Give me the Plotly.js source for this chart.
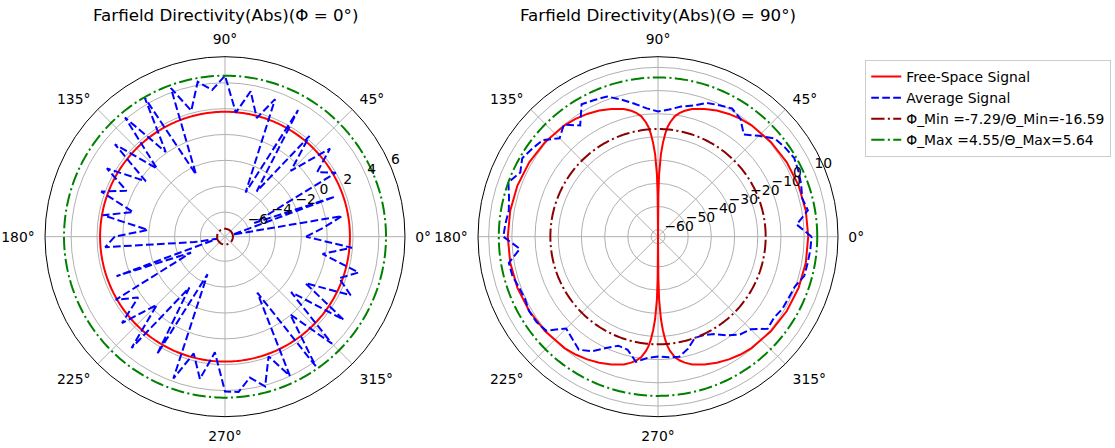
<!DOCTYPE html>
<html>
<head>
<meta charset="utf-8">
<script src="https://cdn.plot.ly/plotly-3.0.1.min.js"></script>
<style>
  html, body { margin: 0; padding: 0; background: #ffffff; }
  #chart { width: 1115px; height: 448px; }
</style>
</head>
<body>
<div id="chart"></div>
<script>
// ---------------- DATA ----------------
// Reference levels (dB)
const FREE_SPACE_LEFT = 1.76;
const PHI_MIN = -7.29;
const PHI_MAX = 4.55;
const THETA_MIN = -16.59;
const THETA_MAX = 5.64;

// Left plot (Phi = 0 deg): average signal, one value every 5 deg
const leftAngles = [0,5,10,15,20,25,30,35,40,45,50,55,60,65,70,75,80,85,
  90,95,100,105,110,115,120,125,130,135,140,145,150,155,160,165,170,175,
  180,185,190,195,200,205,210,215,220,225,230,235,240,245,250,255,260,265,
  270,275,280,285,290,295,300,305,310,315,320,325,330,335,340,345,350,355,360];
const leftAverage = [-1.63,-0.3,1.3,-7.29,1.17,-5.4,2.0,0.8,2.7,-0.7,2.27,-3.63,3.4,-4.13,3.42,1.6,3.52,1.73,
  4.55,3.49,4.26,2.18,4.33,-2.6,4.5,0.09,4.13,-0.46,3.22,-0.42,2.65,0.5,2.29,-0.55,1.69,-1.92,
  0.63,1.4,-5.5,-7.29,1.03,-5.0,1.86,0.3,2.5,-0.45,3.34,-3.1,2.6,-4.7,3.78,1.45,3.27,1.08,
  4.07,4.15,3.16,4.09,1.95,3.97,-2.9,4.33,-0.06,3.8,-1.23,3.3,-0.72,2.82,1.49,2.79,-0.24,1.95,-1.63];

// Right plot (Theta = 90 deg): average signal, one value every 5 deg
const rightAngles = leftAngles;
const rightAverage = [3.2,-3.0,2.6,1.3,2.7,3.8,4.8,3.9,2.8,-1.5,-5.5,-1.0,0.8,-0.5,-1.6,-4.5,-6.0,-8.0,
  -9.0,-7.5,-4.8,-1.8,1.3,2.0,2.9,-4.5,0.1,-3.0,1.8,3.2,4.6,2.5,5.64,3.5,2.3,3.0,
  3.7,-3.2,2.3,2.0,0.8,0.3,1.2,1.0,0.0,-7.0,-5.5,-3.5,-6.0,-10.0,-13.0,-12.5,-8.2,-10.5,
  -11.3,-10.8,-10.4,-13.0,-16.59,-16.2,-14.5,-11.0,-8.0,-6.5,-1.3,-2.0,-1.0,-0.8,-0.2,2.3,2.5,2.9,3.2];

// Right plot: free-space signal (denser near the nulls)
const rightFsAngles = [0,10,20,30,40,50,55,60,65,70,75,78,80,82,84,85,86,87,88,89,89.5,90,
  90.5,91,92,93,94,95,96,98,100,102,105,110,115,120,125,130,140,150,160,170,180,
  190,200,210,220,230,235,240,245,250,255,258,260,262,264,265,266,267,268,269,269.5,270,
  270.5,271,272,273,274,275,276,278,280,282,285,290,295,300,305,310,320,330,340,350,360];
const rightFreeSpace = [1.76,1.7,1.5,1.1,0.5,-0.3,-1.0,-1.9,-3.0,-4.4,-6.0,-7.5,-8.8,-10.5,-13.5,-15.5,-18.5,-22.5,-27.5,-36,-45,-63,
  -45,-36,-27.5,-22.5,-18.5,-15.5,-13.5,-10.5,-8.8,-7.5,-6.0,-4.4,-3.0,-1.9,-1.0,-0.3,0.5,1.1,1.5,1.7,1.76,
  1.7,1.5,1.1,0.5,-0.3,-1.0,-1.9,-3.0,-4.4,-6.0,-7.5,-8.8,-10.5,-13.5,-15.5,-18.5,-22.5,-27.5,-36,-45,-63,
  -45,-36,-27.5,-22.5,-18.5,-15.5,-13.5,-10.5,-8.8,-7.5,-6.0,-4.4,-3.0,-1.9,-1.0,-0.3,0.5,1.1,1.5,1.7,1.76];

// Tick labels
const angleTicks = [0,45,90,135,180,225,270,315];
const angleLabels = ['0°','45°','90°','135°','180°','225°','270°','315°'];
const leftRTicks = [-6,-4,-2,0,2,4,6];
const leftRLabels = ['\u22126','\u22124','\u22122','0','2','4','6'];
const rightRTicks = [-60,-50,-40,-30,-20,-10,0,10];
const rightRLabels = ['\u221260','\u221250','\u221240','\u221230','\u221220','\u221210','0','10'];

const legendNames = ['Free-Space Signal', 'Average Signal',
  '\u03A6_Min =' + PHI_MIN + '/\u0398_Min=' + THETA_MIN,
  '\u03A6_Max =' + PHI_MAX + '/\u0398_Max=' + THETA_MAX];

// ---------------- STYLE / GEOMETRY ----------------
const FONT = 'DejaVu Sans, Liberation Sans, sans-serif';
const LW = 2;
const DASH = '7.7px,3.3px';
const DASHDOT = '13.3px,3.3px,2.1px,3.3px';
const RED = '#ff0000', BLUE = '#0000ff', DARKRED = '#8b0000', GREEN = '#008000';
const LEFT_RANGE = [-7.9, 6.02];
const RIGHT_RANGE = [-63, 14.6];
const R_LABEL_ANGLE = 22.5;     // radial tick labels sit along this angle

// angular positions used to draw the constant reference circles
const circleAngles = [];
for (let a = 0; a <= 360; a += 1) circleAngles.push(a);
function constR(v) { return circleAngles.map(() => v); }

const tickFont = {family: FONT, size: 13.9, color: '#000000'};

function subplotTraces(sp, showLeg, fsTheta, fsR, avgTheta, avgR, minV, maxV, rTicks, rLabels) {
  return [
    {type:'scatterpolar', subplot:sp, theta: fsTheta, r: fsR,
     mode:'lines', line:{color:RED, width:LW}, name: legendNames[0], showlegend: showLeg},
    {type:'scatterpolar', subplot:sp, theta: avgTheta, r: avgR,
     mode:'lines', line:{color:BLUE, width:LW, dash:DASH}, name: legendNames[1], showlegend: showLeg},
    {type:'scatterpolar', subplot:sp, theta: circleAngles, r: constR(minV),
     mode:'lines', line:{color:DARKRED, width:LW, dash:DASHDOT}, name: legendNames[2], showlegend: showLeg},
    {type:'scatterpolar', subplot:sp, theta: circleAngles, r: constR(maxV),
     mode:'lines', line:{color:GREEN, width:LW, dash:DASHDOT}, name: legendNames[3], showlegend: showLeg},
    // radial tick labels (left/bottom anchored at the tick, like matplotlib)
    {type:'scatterpolar', subplot:sp, theta: rTicks.map(() => R_LABEL_ANGLE), r: rTicks,
     mode:'text', text: rLabels, textposition:'top right', textfont: tickFont,
     cliponaxis:false, showlegend:false, hoverinfo:'skip'}
  ];
}

const traces = [].concat(
  subplotTraces('polar', true, circleAngles, constR(FREE_SPACE_LEFT), leftAngles, leftAverage,
                PHI_MIN, PHI_MAX, leftRTicks, leftRLabels),
  subplotTraces('polar2', false, rightFsAngles, rightFreeSpace, rightAngles, rightAverage,
                THETA_MIN, THETA_MAX, rightRTicks, rightRLabels)
);

function polarCfg(domX, domY, range, tv) {
  return {
    domain: {x: domX, y: domY},
    bgcolor: '#ffffff',
    angularaxis: {
      rotation: 0, direction: 'counterclockwise',
      tickmode: 'array', tickvals: angleTicks, ticktext: angleLabels,
      ticks: 'outside', ticklen: 7, tickcolor: 'rgba(0,0,0,0)',
      showline: true, linecolor: '#000000', linewidth: 1,
      showgrid: true, gridcolor: '#b0b0b0', gridwidth: 1,
      tickfont: tickFont
    },
    radialaxis: {
      range: range, angle: R_LABEL_ANGLE,
      tickmode: 'array', tickvals: tv, showticklabels: false,
      ticks: '', showline: false, showgrid: true, gridcolor: '#b0b0b0', gridwidth: 1
    }
  };
}

const layout = {
  width: 1115, height: 448, autosize: false,
  margin: {l: 0, r: 0, t: 0, b: 0},
  paper_bgcolor: '#ffffff',
  font: {family: FONT, color: '#000000'},
  showlegend: true,
  legend: {
    x: 0.776, y: 0.866, xanchor: 'left', yanchor: 'top',
    bgcolor: '#ffffff', bordercolor: '#cccccc', borderwidth: 1,
    font: {family: FONT, size: 13.9, color: '#000000'}
  },
  polar: polarCfg([0.0399, 0.3637], [0.0699, 0.8735], LEFT_RANGE, leftRTicks),
  polar2: polarCfg([0.4283, 0.7520], [0.0699, 0.8735], RIGHT_RANGE, rightRTicks),
  annotations: [
    {text: 'Farfield Directivity(Abs)(\u03A6 = 0°)', xref: 'paper', yref: 'paper',
     x: 0.2018, y: 1 - 15/448, xanchor: 'center', yanchor: 'middle', showarrow: false,
     font: {family: FONT, size: 16.7, color: '#000000'}},
    {text: 'Farfield Directivity(Abs)(\u0398 = 90°)', xref: 'paper', yref: 'paper',
     x: 0.5897, y: 1 - 15/448, xanchor: 'center', yanchor: 'middle', showarrow: false,
     font: {family: FONT, size: 16.7, color: '#000000'}}
  ]
};

Plotly.newPlot('chart', traces, layout, {displayModeBar: false, staticPlot: true});
</script>
</body>
</html>
